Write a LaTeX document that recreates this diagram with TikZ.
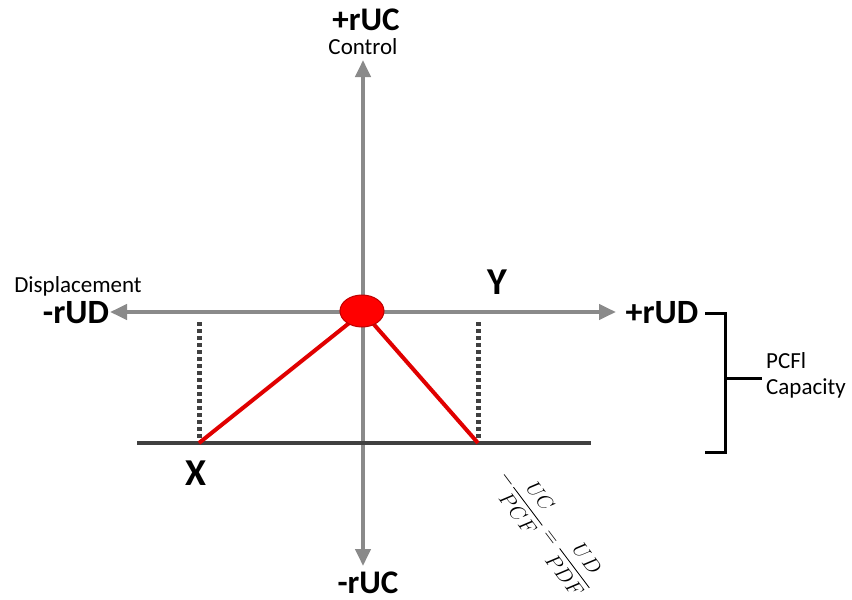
\documentclass[tikz,border=0pt]{standalone}
\usepackage{amsmath}
\usepackage{fontspec}
\setmainfont{Carlito}
\usetikzlibrary{arrows.meta,shapes.geometric}
\definecolor{axisgray}{HTML}{8A8A8A}
\definecolor{darkline}{HTML}{404040}
\definecolor{redline}{HTML}{E00000}
\tikzset{
  axis/.style={draw=axisgray, line width=4pt, -{Triangle[length=17pt,width=15pt]}},
  baseline/.style={draw=darkline, line width=4pt},
  redseg/.style={draw=redline, line width=4pt},
  dotline/.style={draw=darkline, line width=5pt, dash pattern=on 4pt off 3pt},
  biglabel/.style={font=\bfseries\fontsize{34}{34}\selectfont, inner sep=0pt},
  vlabel/.style={font=\bfseries\fontsize{33}{33}\selectfont, inner sep=0pt},
  ptlabel/.style={font=\bfseries\fontsize{38}{38}\selectfont, inner sep=0pt},
  smalltext/.style={font=\fontsize{23}{25}\selectfont, inner sep=0pt},
  bracket/.style={draw=black, line width=3pt},
}
\begin{document}
\begin{tikzpicture}[x=1pt,y=-1pt]
\useasboundingbox (0,0) rectangle (852,600);
% coordinates
\coordinate (O) at (363,312);
\coordinate (top) at (363,60);
\coordinate (bot) at (363,566);
\coordinate (left) at (110,312);
\coordinate (right) at (616,312);
\coordinate (bl) at (137,443);
\coordinate (br) at (591,443);
\coordinate (X) at (199,443);
\coordinate (Yb) at (478,443);
\coordinate (dx1) at (199,322);
\coordinate (dx2) at (478,322);
% axes
\draw[axis] (O) -- (top);
\draw[axis] (O) -- (bot);
\draw[axis] (O) -- (left);
\draw[axis] (O) -- (right);
% dotted
\draw[dotline] (dx1) -- (X);
\draw[dotline] (dx2) -- (Yb);
% base
\draw[baseline] (bl) -- (br);
% red lines
\draw[redseg] (O) -- (X);
\draw[redseg] (O) -- (Yb);
% ellipse
\node[ellipse, draw=red!75!black, fill=red, line width=1pt, minimum width=44pt, minimum height=32pt, inner sep=0pt] (dot) at (362,311) {};
% labels
\node[vlabel] (pruc) at (366,20) {+rUC};
\node[smalltext] (ctrl) at (363,47) {Control};
\node[vlabel] (mruc) at (368,583) {-rUC};
\node[smalltext] (disp) at (78,286) {Displacement};
\node[biglabel] (mrud) at (76,313) {-rUD};
\node[biglabel] (prud) at (662,313) {+rUD};
\node[ptlabel] (Y) at (497,282) {Y};
\node[ptlabel] (Xl) at (196,473) {X};
% bracket
\coordinate (b1) at (705,313);
\coordinate (b2) at (725,313);
\coordinate (b3) at (725,452);
\coordinate (b4) at (705,452);
\coordinate (bm) at (725,378);
\coordinate (bt) at (762,378);
\draw[bracket] (b1) -- (b2) -- (b3) -- (b4);
\draw[bracket] (bm) -- (bt);
\node[smalltext, anchor=west] (pcfl) at (766,361) {PCFl};
\node[smalltext, anchor=west] (cap) at (766,388) {Capacity};
% formula
\node[rotate=-53, font=\fontsize{20}{20}\selectfont, inner sep=0pt] (frm) at (548,530) {$-\dfrac{UC}{PCF}=\dfrac{UD}{PDF}$};
\end{tikzpicture}
\end{document}
